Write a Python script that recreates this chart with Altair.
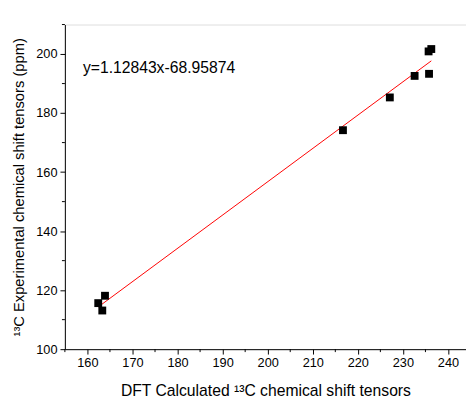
import altair as alt
import pandas as pd

# Data
calc_x = [162.4, 163.3, 163.9, 216.7, 227.1, 232.6, 235.8, 235.7, 236.3]
expt_y = [115.6, 113.1, 118.1, 174.2, 185.3, 192.6, 193.3, 200.9, 201.7]
fit_x = [162.4, 236.3]
fit_y = [114.3, 197.7]
x_ticks = [160, 170, 180, 190, 200, 210, 220, 230, 240]
y_ticks = [100, 120, 140, 160, 180, 200]
x_minor = [155, 165, 175, 185, 195, 205, 215, 225, 235]
y_minor = [110, 130, 150, 170, 190, 210]
equation = "y=1.12843x-68.95874"
eq_pos = [159.0, 195.4]

W, H = 409, 331
FONT = "Liberation Sans"

pts = pd.DataFrame({"x": calc_x, "y": expt_y})
fit = pd.DataFrame({"x": fit_x, "y": fit_y})
xm = pd.DataFrame({"v": x_minor})
ym = pd.DataFrame({"v": y_minor})
eq = pd.DataFrame({"x": [eq_pos[0]], "y": [eq_pos[1]], "t": [equation]})

xscale = alt.Scale(domain=[155, 244], nice=False, zero=False)
yscale = alt.Scale(domain=[100, 210], nice=False, zero=False)

xaxis = alt.Axis(values=x_ticks, title="DFT Calculated ¹³C chemical shift tensors",
                 grid=False, domainColor="black", tickColor="black", tickSize=5,
                 labelFontSize=13, labelColor="black", labelFont=FONT, labelPadding=3,
                 titleFont=FONT, titleFontSize=16, titleFontWeight="normal",
                 titleColor="black", titlePadding=13)
yaxis = alt.Axis(values=y_ticks, title="¹³C Experimental chemical shift tensors (ppm)",
                 grid=False, domainColor="black", tickColor="black", tickSize=5,
                 labelFontSize=13, labelColor="black", labelFont=FONT, labelPadding=3,
                 titleFont=FONT, titleFontSize=15, titleFontWeight="normal",
                 titleColor="black", titlePadding=10)

points = alt.Chart(pts).mark_square(size=64, color="black", opacity=1).encode(
    x=alt.X("x:Q", scale=xscale, axis=xaxis),
    y=alt.Y("y:Q", scale=yscale, axis=yaxis),
)
line = alt.Chart(fit).mark_line(color="red", strokeWidth=1).encode(
    x=alt.X("x:Q", scale=xscale), y=alt.Y("y:Q", scale=yscale)
)
xminor = alt.Chart(xm).mark_rule(color="black", strokeWidth=1).encode(
    x=alt.X("v:Q", scale=xscale), y=alt.value(H), y2=alt.value(H + 3)
)
yminor = alt.Chart(ym).mark_rule(color="black", strokeWidth=1).encode(
    y=alt.Y("v:Q", scale=yscale), x=alt.value(0), x2=alt.value(-3)
)
text = alt.Chart(eq).mark_text(align="left", baseline="middle", fontSize=16,
                               font=FONT, color="black").encode(
    x=alt.X("x:Q", scale=xscale), y=alt.Y("y:Q", scale=yscale), text="t:N"
)

chart = alt.layer(line, points, xminor, yminor, text).properties(
    width=W, height=H,
    autosize=alt.AutoSizeParams(type="none"),
    padding={"left": 58, "top": 13, "right": 0, "bottom": 50},
).configure_view(stroke=None).configure(background="white")

chart.save("out.html", embed_options={"renderer": "svg", "actions": False})
